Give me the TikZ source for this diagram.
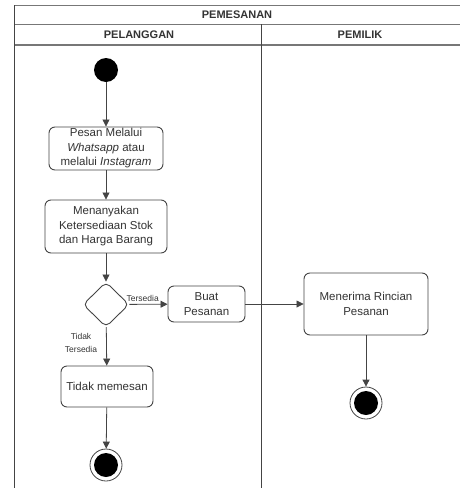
\documentclass[tikz,border=0pt]{standalone}
\usepackage{fontspec}
\setmainfont{Liberation Sans}
\usetikzlibrary{arrows.meta,shapes.geometric}
\definecolor{txt}{HTML}{333333}
\definecolor{ln}{HTML}{444444}
\definecolor{hdr}{HTML}{777777}
\begin{document}
\begin{tikzpicture}[x=1pt,y=-1pt,
  act/.style={draw=ln,line width=0.9pt,rounded corners=6pt,fill=white,text=txt,align=center,
    font=\fontsize{11.5}{14.5}\selectfont,inner sep=0pt},
  flow/.style={draw=ln,line width=0.8pt,-{Triangle[length=7pt,width=7pt]}},
  lbl/.style={text=txt,font=\fontsize{8.5}{13}\selectfont,align=center,inner sep=1pt},
  hd/.style={text=txt,font=\bfseries\fontsize{11}{13}\selectfont,inner sep=0pt},
  startnode/.style={circle,fill=black,minimum size=24pt,inner sep=0pt},
  endouter/.style={circle,draw=ln,line width=0.8pt,fill=white,minimum size=32pt,inner sep=0pt}]
\useasboundingbox (0,0) rectangle (460,488);
% frame
\draw[hdr,line width=0.8pt] (14,5) -- (460,5);
\draw[hdr,line width=0.8pt] (14,24) -- (460,24);
\draw[hdr,line width=1.5pt] (14,45) -- (460,45);
\draw[ln,line width=1pt] (14,5) -- (14,488);
\draw[ln,line width=1pt] (261,24) -- (261,488);
\node[hd] (title) at (237,14.5) {PEMESANAN};
\node[hd] (lane1) at (139,34.5) {PELANGGAN};
\node[hd] (lane2) at (360,34.5) {PEMILIK};
% nodes
\node[startnode] (start) at (106,70) {};
\node[act,minimum width=114pt,minimum height=43pt] (pesan) at (106,148.5)
  {Pesan Melalui\\\textit{Whatsapp} atau\\melalui \textit{Instagram}};
\node[act,minimum width=122pt,minimum height=53pt] (tanya) at (106,226.5)
  {Menanyakan\\Ketersediaan Stok\\dan Harga Barang};
\node[diamond,draw=ln,line width=0.9pt,rounded corners=5pt,minimum width=46pt,minimum height=45pt,inner sep=0pt] (dec) at (106,304.5) {};
\node[act,minimum width=77pt,minimum height=36pt] (buat) at (206.5,304) {Buat\\Pesanan};
\node[act,minimum width=92pt,minimum height=41pt] (tidak) at (107,386.5) {Tidak memesan};
\node[act,minimum width=124pt,minimum height=62pt] (terima) at (366,304) {Menerima Rincian\\Pesanan};
\node[endouter] (end1) at (106,465) {};
\node[startnode] at (end1) {};
\node[endouter] (end2) at (366,403) {};
\node[startnode] at (end2) {};
% flows
\draw[flow] (start) -- (pesan);
\draw[flow] (pesan) -- (tanya);
\draw[flow] (tanya) -- (dec);
\draw[flow] (dec) -- node[lbl,above,pos=0.35,yshift=1pt] (lt) {Tersedia} (buat);
\draw[flow] (dec) -- node[lbl,left,pos=0.4,xshift=-8pt] (lf) {Tidak\\Tersedia} (tidak);
\draw[flow] (tidak) -- (end1);
\draw[flow] (buat) -- (terima);
\draw[flow] (terima) -- (end2);
\end{tikzpicture}
\end{document}
